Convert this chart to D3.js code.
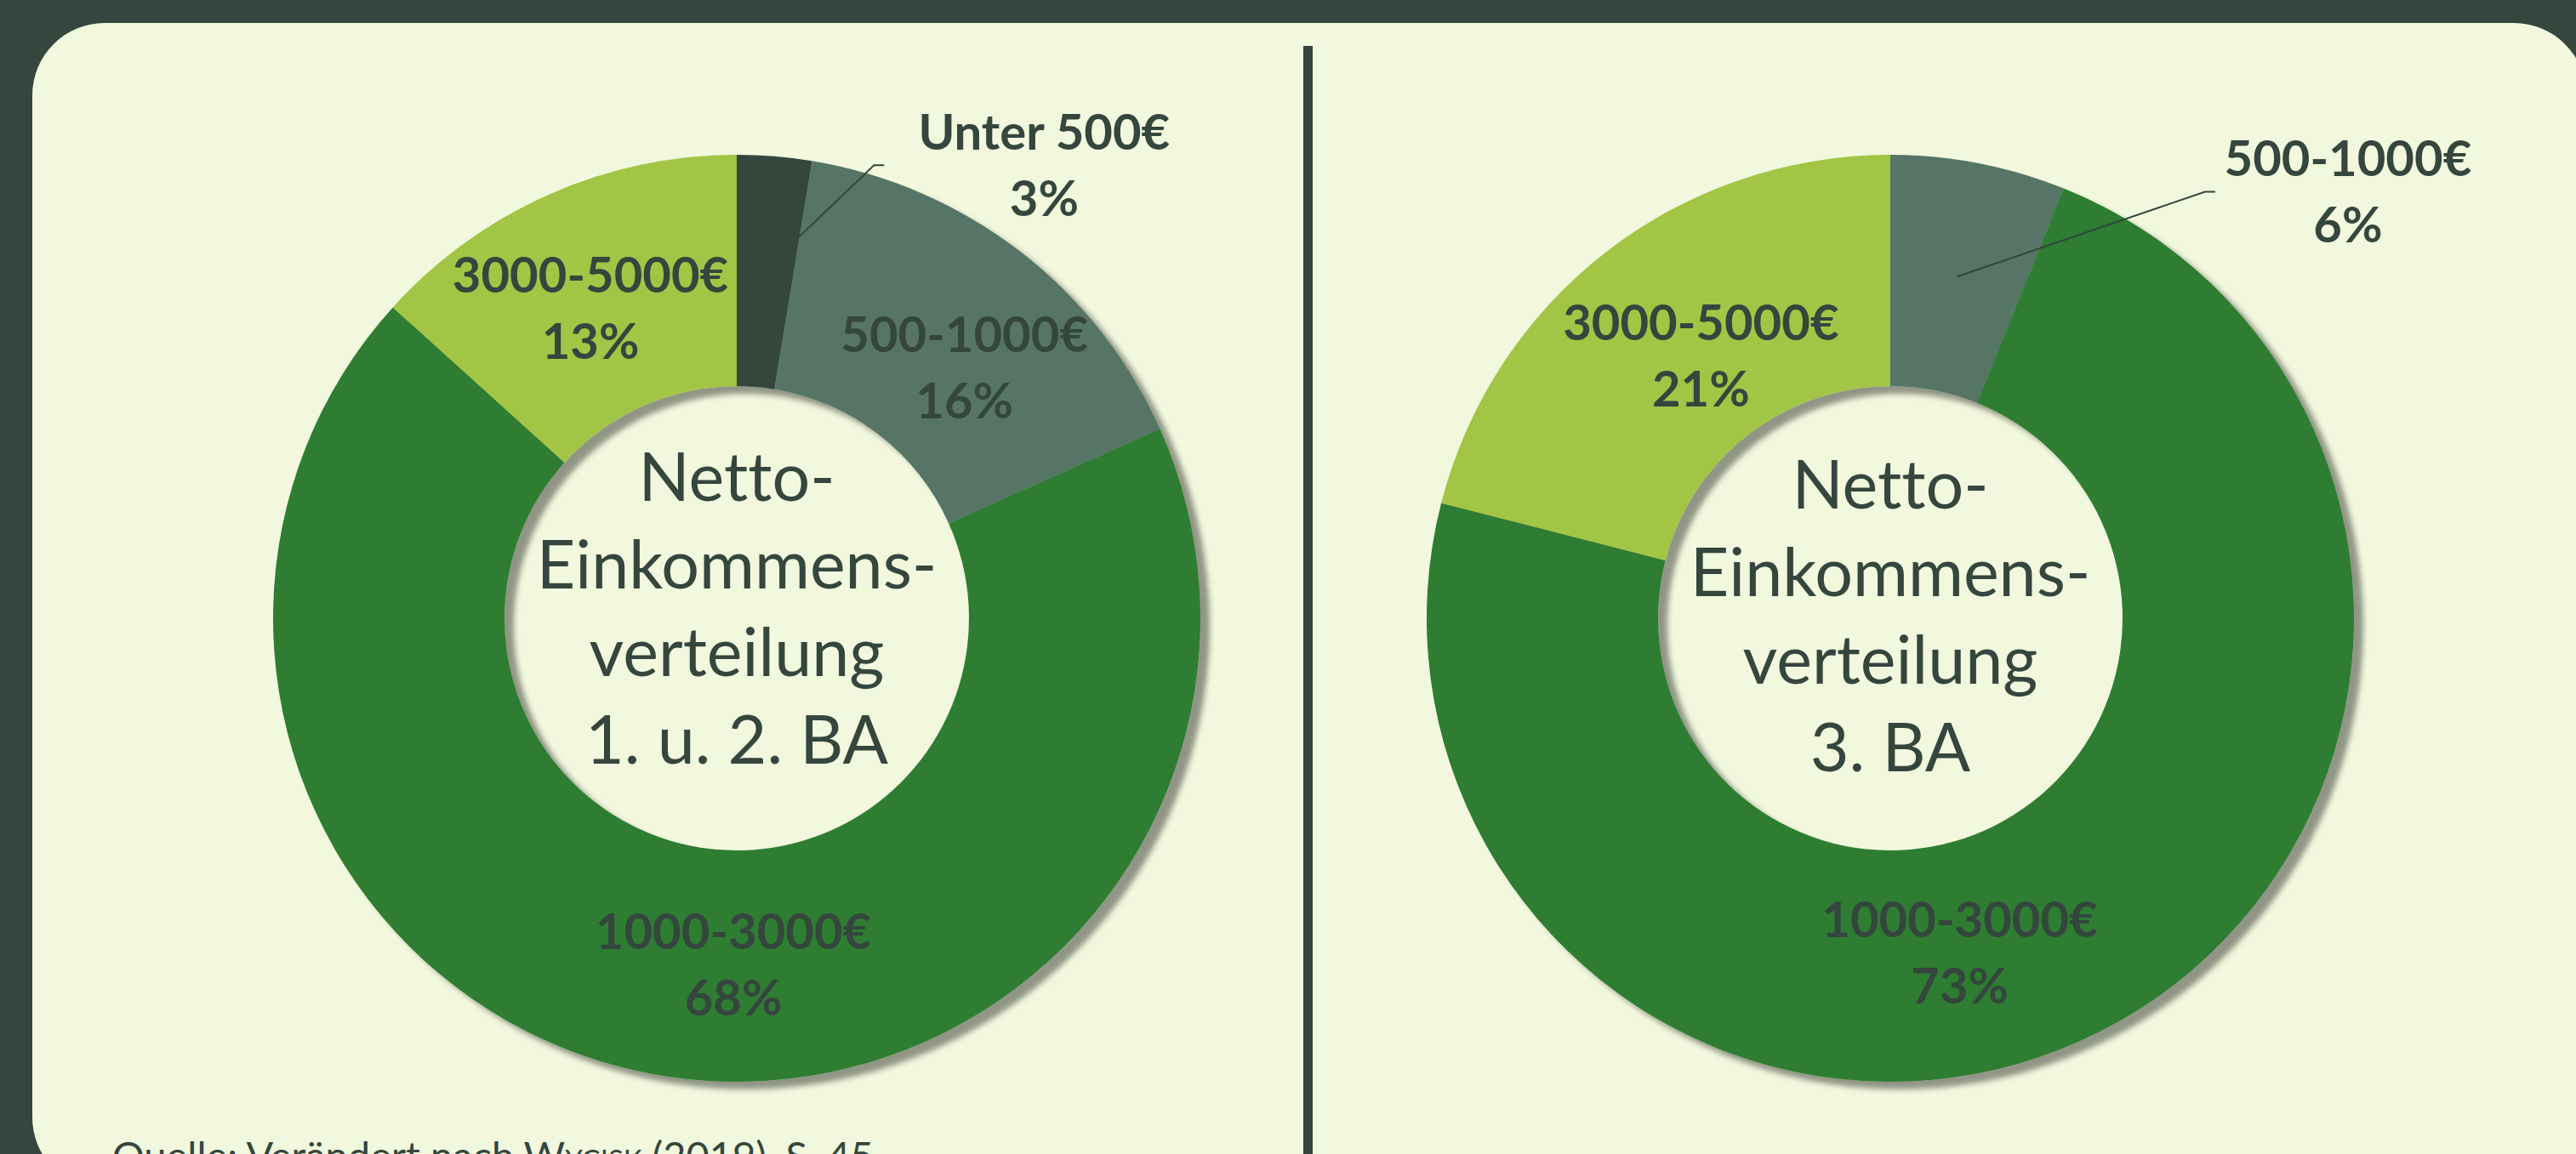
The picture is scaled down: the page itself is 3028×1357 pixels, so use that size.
<!DOCTYPE html>
<html lang="de">
<head>
  <meta charset="UTF-8">
  <title>Netto-Einkommensverteilung</title>
  <style>
    html, body { margin: 0; padding: 0; background: #34463d; }
    svg { display: block; }
    text { font-family: Lato, "Open Sans", sans-serif; font-variant-ligatures: none; }
  </style>
</head>
<body>
  <svg id="chart" width="3028" height="1357"></svg>

  <script src="https://d3js.org/d3.v7.min.js"></script>
  <script>
    // Kategorien und Farben
    const categories = ['Unter 500€', '500-1000€', '1000-3000€', '3000-5000€'];
    const sliceColors = ['#34463d', '#567466', '#2e7d32', '#a2c545'];

    // Anteile in Prozent
    const shares12 = [2.6, 15.7, 68.4, 13.3];
    const shares3 = [0, 6.1, 72.9, 21.0];

    // Titel in der Mitte
    const title12 = ['Netto-', 'Einkommens-', 'verteilung', '1. u. 2. BA'];
    const title3 = ['Netto-', 'Einkommens-', 'verteilung', '3. BA'];

    // Verschiebung der Beschriftungen gegenüber dem Schwerpunkt des Segments
    const labelShift12 = [[328, -125], [18, 29], [60, 4], [-6, 9]];
    const labelShift3 = [[0, 0], [460, -100], [-103, 28], [28, 15]];
    // Führungslinien: [Startverschiebung, Knick relativ zur Beschriftung]
    const leader12 = { 0: { start: [38, -39], elbow: -200 } };
    const leader3 = { 1: { start: [0, 0], elbow: -168 } };

    const source = ['Quelle: Verändert nach W', 'ycisk', ' (2019), S. 45'];

    const width = 3028, height = 1357;
    const ink = '#34463d';
    const svg = d3.select('#chart');

    // Hintergrund
    svg.append('rect')
      .attr('width', width)
      .attr('height', height)
      .attr('fill', '#34463d');

    svg.append('rect')
      .attr('x', 38)
      .attr('y', 27)
      .attr('width', 3002)
      .attr('height', 1372)
      .attr('rx', 85)
      .attr('fill', '#f1f8dd');

    // Trennlinie
    svg.append('rect')
      .attr('x', 1532)
      .attr('y', 54)
      .attr('width', 11)
      .attr('height', height - 54)
      .attr('fill', ink);

    // Schatten
    const defs = svg.append('defs');
    const filter = defs.append('filter')
      .attr('id', 'schatten')
      .attr('x', '-10%').attr('y', '-10%')
      .attr('width', '130%').attr('height', '130%');
    filter.append('feDropShadow')
      .attr('dx', 11)
      .attr('dy', 9)
      .attr('stdDeviation', 3)
      .attr('flood-color', '#000')
      .attr('flood-opacity', 0.4);

    const outerR = 545, innerR = 273;
    const pie = d3.pie().sort(null).value(d => d);
    const arc = d3.arc().innerRadius(innerR).outerRadius(outerR);

    function zeichneRing(cx, cy, shares, title, titleShift, labelShift, leaders) {
      const g = svg.append('g').attr('transform', `translate(${cx},${cy})`);
      const slices = pie(shares);

      g.append('g')
        .attr('filter', 'url(#schatten)')
        .selectAll('path')
        .data(slices)
        .enter().append('path')
        .attr('d', arc)
        .attr('fill', (d, i) => sliceColors[i]);

      // Titel in der Mitte
      const lineGap = 103;
      g.append('g').selectAll('text')
        .data(title)
        .enter().append('text')
        .attr('x', 0)
        .attr('y', (d, i) => -138 + titleShift + i * lineGap)
        .attr('text-anchor', 'middle')
        .attr('font-size', 79)
        .attr('fill', ink)
        .text(d => d);

      // Beschriftungen
      slices.forEach((d, i) => {
        if (d.data <= 0) return;
        const c = arc.centroid(d);
        const lx = c[0] + labelShift[i][0];
        const ly = c[1] + labelShift[i][1];

        const lab = g.append('text')
          .attr('text-anchor', 'middle')
          .attr('font-size', 58)
          .attr('font-weight', 700)
          .attr('fill', ink);
        lab.append('tspan').attr('x', lx).attr('y', ly - 18.5).text(categories[i]);
        lab.append('tspan').attr('x', lx).attr('y', ly + 59.5).text(Math.round(d.data) + '%');

        const ld = leaders[i];
        if (ld) {
          const pts = [
            [c[0] + ld.start[0], c[1] + ld.start[1]],
            [lx + ld.elbow, ly],
            [lx + ld.elbow + 12, ly]
          ];
          g.append('path')
            .attr('d', d3.line()(pts))
            .attr('fill', 'none')
            .attr('stroke', ink)
            .attr('stroke-width', 2);
        }
      });
    }

    zeichneRing(866, 727, shares12, title12, 0, labelShift12, leader12);
    zeichneRing(2222, 727, shares3, title3, 9, labelShift3, leader3);

    // Quelle (im Original unten angeschnitten)
    const q = svg.append('text')
      .attr('x', 132)
      .attr('y', 1376)
      .attr('font-size', 47)
      .attr('fill', ink);
    q.append('tspan').text(source[0]);
    q.append('tspan').style('font-variant', 'small-caps').text(source[1]);
    q.append('tspan').text(source[2]);
  </script>
</body>
</html>
